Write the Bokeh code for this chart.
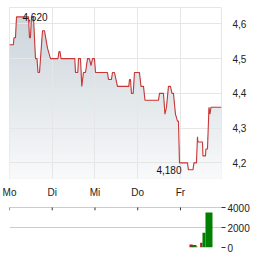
import numpy as np
from bokeh.plotting import figure
from bokeh.layouts import column
from bokeh.models import Range1d, FixedTicker
from bokeh.core.properties import value
from bokeh.embed import file_html
from bokeh.resources import INLINE

# ---- data ----
day_labels = ["Mo", "Di", "Mi", "Do", "Fr"]
day_pos = [0, 1, 2, 3, 4]

times = [0.00, 0.09, 0.105, 0.14, 0.164, 0.444, 0.468, 0.49, 0.515, 0.561,
         0.608, 0.643, 0.667, 0.702, 0.772, 0.819, 0.889, 0.959, 1.135, 1.158,
         1.181, 1.205, 1.527, 1.544, 1.598, 1.614, 1.661, 1.691, 1.731, 1.778,
         1.825, 1.871, 1.906, 1.942, 1.988, 2.012, 2.292, 2.316, 2.386, 2.409,
         2.456, 2.526, 2.791, 2.807, 2.83, 2.854, 2.894, 2.924, 3.041, 3.076,
         3.135, 3.17, 3.485, 3.509, 3.602, 3.637, 3.673, 3.719, 3.766, 3.801,
         3.836, 3.883, 3.93, 3.953, 3.977, 4.164, 4.187, 4.292, 4.316, 4.374,
         4.398, 4.409, 4.515, 4.526, 4.585, 4.596, 4.632, 4.667, 4.69, 4.713,
         4.959]
prices = [4.54, 4.54, 4.56, 4.56, 4.62, 4.62, 4.56, 4.56, 4.62, 4.62,
          4.50, 4.50, 4.46, 4.46, 4.58, 4.58, 4.53, 4.50, 4.50, 4.52,
          4.52, 4.50, 4.50, 4.46, 4.46, 4.50, 4.50, 4.42, 4.46, 4.46,
          4.50, 4.50, 4.48, 4.50, 4.50, 4.46, 4.46, 4.44, 4.44, 4.46,
          4.46, 4.42, 4.42, 4.44, 4.44, 4.40, 4.40, 4.46, 4.46, 4.42,
          4.42, 4.38, 4.38, 4.40, 4.40, 4.34, 4.36, 4.42, 4.42, 4.40,
          4.40, 4.34, 4.32, 4.32, 4.20, 4.20, 4.18, 4.18, 4.20, 4.20,
          4.275, 4.26, 4.26, 4.22, 4.22, 4.24, 4.24, 4.36, 4.34, 4.36,
          4.36]

price_ticks = [4.2, 4.3, 4.4, 4.5, 4.6]
price_tick_labels = ["4,2", "4,3", "4,4", "4,5", "4,6"]

vol_start = [4.21, 4.274, 4.374, 4.46, 4.515, 4.585]
vol_end = [4.288, 4.374, 4.398, 4.515, 4.585, 4.749]
volumes = [300, 240, 100, 470, 1470, 3500]
vol_colors = ["#a52222", "#008000", "#a52222", "#a52222", "#008000", "#008000"]

vol_ticks = [0, 2000, 4000]
vol_tick_labels = ["0", "2000", "4000"]

X_MAX = 4.96
Y_LO, Y_HI = 4.155, 4.647
V_TOP = 4100

FONT = "Liberation Sans"
TXT = "#222222"

# ---- price chart ----
p = figure(width=264, height=200, x_range=Range1d(0, X_MAX), y_range=Range1d(Y_LO, Y_HI),
           output_backend="svg", toolbar_location=None, y_axis_location="right",
           min_border_left=9, min_border_right=43, min_border_top=7, min_border_bottom=15)
p.background_fill_color = "white"
p.border_fill_color = "white"
p.outline_line_color = "#e6e6e6"
p.xgrid.grid_line_color = None
p.ygrid.grid_line_color = None

# vertical gradient fill: opaque bands painted from the top band down
pr = np.array(prices)
top_rgb = np.array([204, 213, 219])
bot_rgb = np.array([249, 250, 251])
n_bands = 36
uppers = np.linspace(Y_LO, Y_HI, n_bands + 1)[1:][::-1]
for ub in uppers:
    f = (ub - (Y_HI - Y_LO) / n_bands / 2 - Y_LO) / (Y_HI - Y_LO)
    r, g, b = (bot_rgb + (top_rgb - bot_rgb) * min(1.0, f * 1.05)).astype(int)
    p.varea(x=times, y1=np.full(len(pr), Y_LO), y2=np.minimum(pr, ub),
            fill_color=f"#{r:02x}{g:02x}{b:02x}", fill_alpha=1.0)

# grid above the fill
p.hspan(y=price_ticks, line_color="#e6e6e6", line_width=1)
p.vspan(x=day_pos, line_color="#e6e6e6", line_width=1)

p.line(x=times, y=prices, line_color="#c83737", line_width=1.1)

imax = int(np.argmax(pr))
imin = int(np.argmin(pr))
fmt = lambda v: f"{v:.3f}".replace(".", ",")
p.text(x=[times[imax]], y=[prices[imax]], text=[fmt(prices[imax])], x_offset=6,
       text_align="left", text_baseline="middle", text_font=value(FONT),
       text_font_size="10px", text_color="#111111")
p.text(x=[times[imin]], y=[prices[imin]], text=[fmt(prices[imin])], x_offset=-7,
       text_align="right", text_baseline="middle", text_font=value(FONT),
       text_font_size="10px", text_color="#111111")

p.yaxis.ticker = FixedTicker(ticks=price_ticks)
p.yaxis.major_label_overrides = dict(zip(price_ticks, price_tick_labels))
p.xaxis.ticker = FixedTicker(ticks=day_pos)
p.xaxis.major_label_overrides = dict(zip(day_pos, day_labels))
for ax in (p.xaxis[0], p.yaxis[0]):
    ax.axis_line_color = None
    ax.major_tick_line_color = None
    ax.minor_tick_line_color = None
    ax.major_label_text_font = FONT
    ax.major_label_text_font_size = "10px"
    ax.major_label_text_color = TXT
p.yaxis.major_label_standoff = 5
p.xaxis.major_label_standoff = 2

# ---- volume chart ----
v = figure(width=264, height=55, x_range=p.x_range, y_range=Range1d(0, V_TOP),
           output_backend="svg", toolbar_location=None, x_axis_location=None,
           y_axis_location="right",
           min_border_left=9, min_border_right=43, min_border_top=6, min_border_bottom=8)
v.background_fill_color = "white"
v.border_fill_color = "white"
v.outline_line_color = None
v.xgrid.grid_line_color = None
v.ygrid.ticker = FixedTicker(ticks=vol_ticks)
v.ygrid.grid_line_color = "#cccccc"

# small day ticks hanging from the top grid line
v.segment(x0=day_pos, x1=day_pos, y0=max(vol_ticks), y1=max(vol_ticks) - 280,
          line_color="#333333", line_width=1)

v.quad(left=vol_start, right=vol_end, bottom=0, top=volumes,
       fill_color=vol_colors, line_color=None)

v.yaxis.ticker = FixedTicker(ticks=vol_ticks)
v.yaxis.major_label_overrides = dict(zip(vol_ticks, vol_tick_labels))
v.yaxis.axis_line_color = None
v.yaxis.major_tick_in = 0
v.yaxis.major_tick_out = 4
v.yaxis.major_tick_line_color = "#333333"
v.yaxis.minor_tick_line_color = None
v.yaxis.major_label_standoff = 2
v.yaxis.major_label_text_font = FONT
v.yaxis.major_label_text_font_size = "10px"
v.yaxis.major_label_text_color = TXT

layout = column(p, v, spacing=0)
open("out.html", "w").write(file_html(layout, INLINE))
